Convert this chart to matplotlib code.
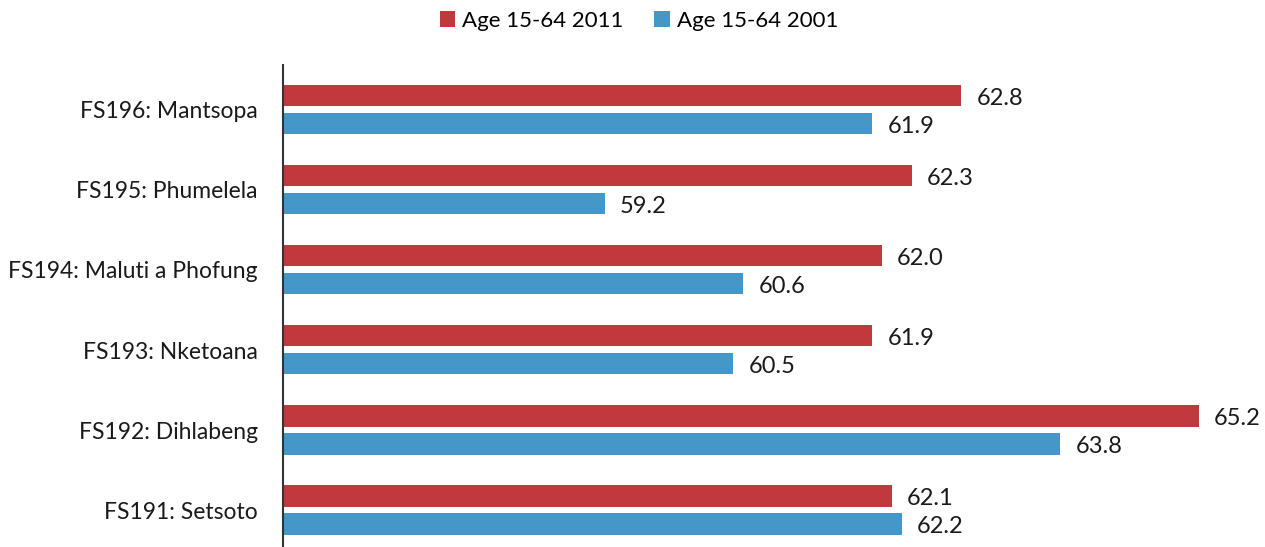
import matplotlib
matplotlib.use("Agg")
import matplotlib.pyplot as plt
import numpy as np

plt.rcParams['font.family'] = ['Lato', 'DejaVu Sans']

municipalities = ["FS191: Setsoto", "FS192: Dihlabeng", "FS193: Nketoana",
                  "FS194: Maluti a Phofung", "FS195: Phumelela", "FS196: Mantsopa"]
age_2011 = [62.1, 65.2, 61.9, 62.0, 62.3, 62.8]
age_2001 = [62.2, 63.8, 60.5, 60.6, 59.2, 61.9]

red = "#c0393d"
blue = "#4597c8"

fig = plt.figure(figsize=(12.65, 5.47), dpi=100)
ax = fig.add_axes([283 / 1265, 0.0, 1 - 283 / 1265, 1 - 65 / 547])

y = np.arange(len(municipalities))
h = 0.27
b1 = ax.barh(y + 0.18, age_2011, height=h, left=0, color=red, label="Age 15-64 2011")
b2 = ax.barh(y - 0.17, age_2001, height=h, left=0, color=blue, label="Age 15-64 2001")

for bars, vals in ((b1, age_2011), (b2, age_2001)):
    for bar, v in zip(bars, vals):
        ax.annotate(f"{v:.1f}", (v, bar.get_y() + bar.get_height() / 2),
                    xytext=(11, -2), textcoords="offset points",
                    ha="left", va="center", fontsize=17, color="#1a1a1a")

ax.set_xlim(55.95, 55.95 + 982 / 99)
ax.set_ylim(-0.46, 5.56)
ax.set_yticks(y)
ax.set_yticklabels(municipalities, fontsize=16.5, color="#1a1a1a")
ax.tick_params(axis="y", length=0, pad=18)
ax.set_xticks([])
for s in ("top", "right", "bottom"):
    ax.spines[s].set_visible(False)
ax.spines["left"].set_linewidth(1.5)
ax.spines["left"].set_color("#333333")

fig.legend(handles=[b1, b2], loc="center", bbox_to_anchor=(0.505, 0.962),
           ncol=2, frameon=False, fontsize=16, handlelength=0.7, handleheight=0.7,
           handletextpad=0.3, columnspacing=1.4)

fig.savefig("out.png", dpi=100)
